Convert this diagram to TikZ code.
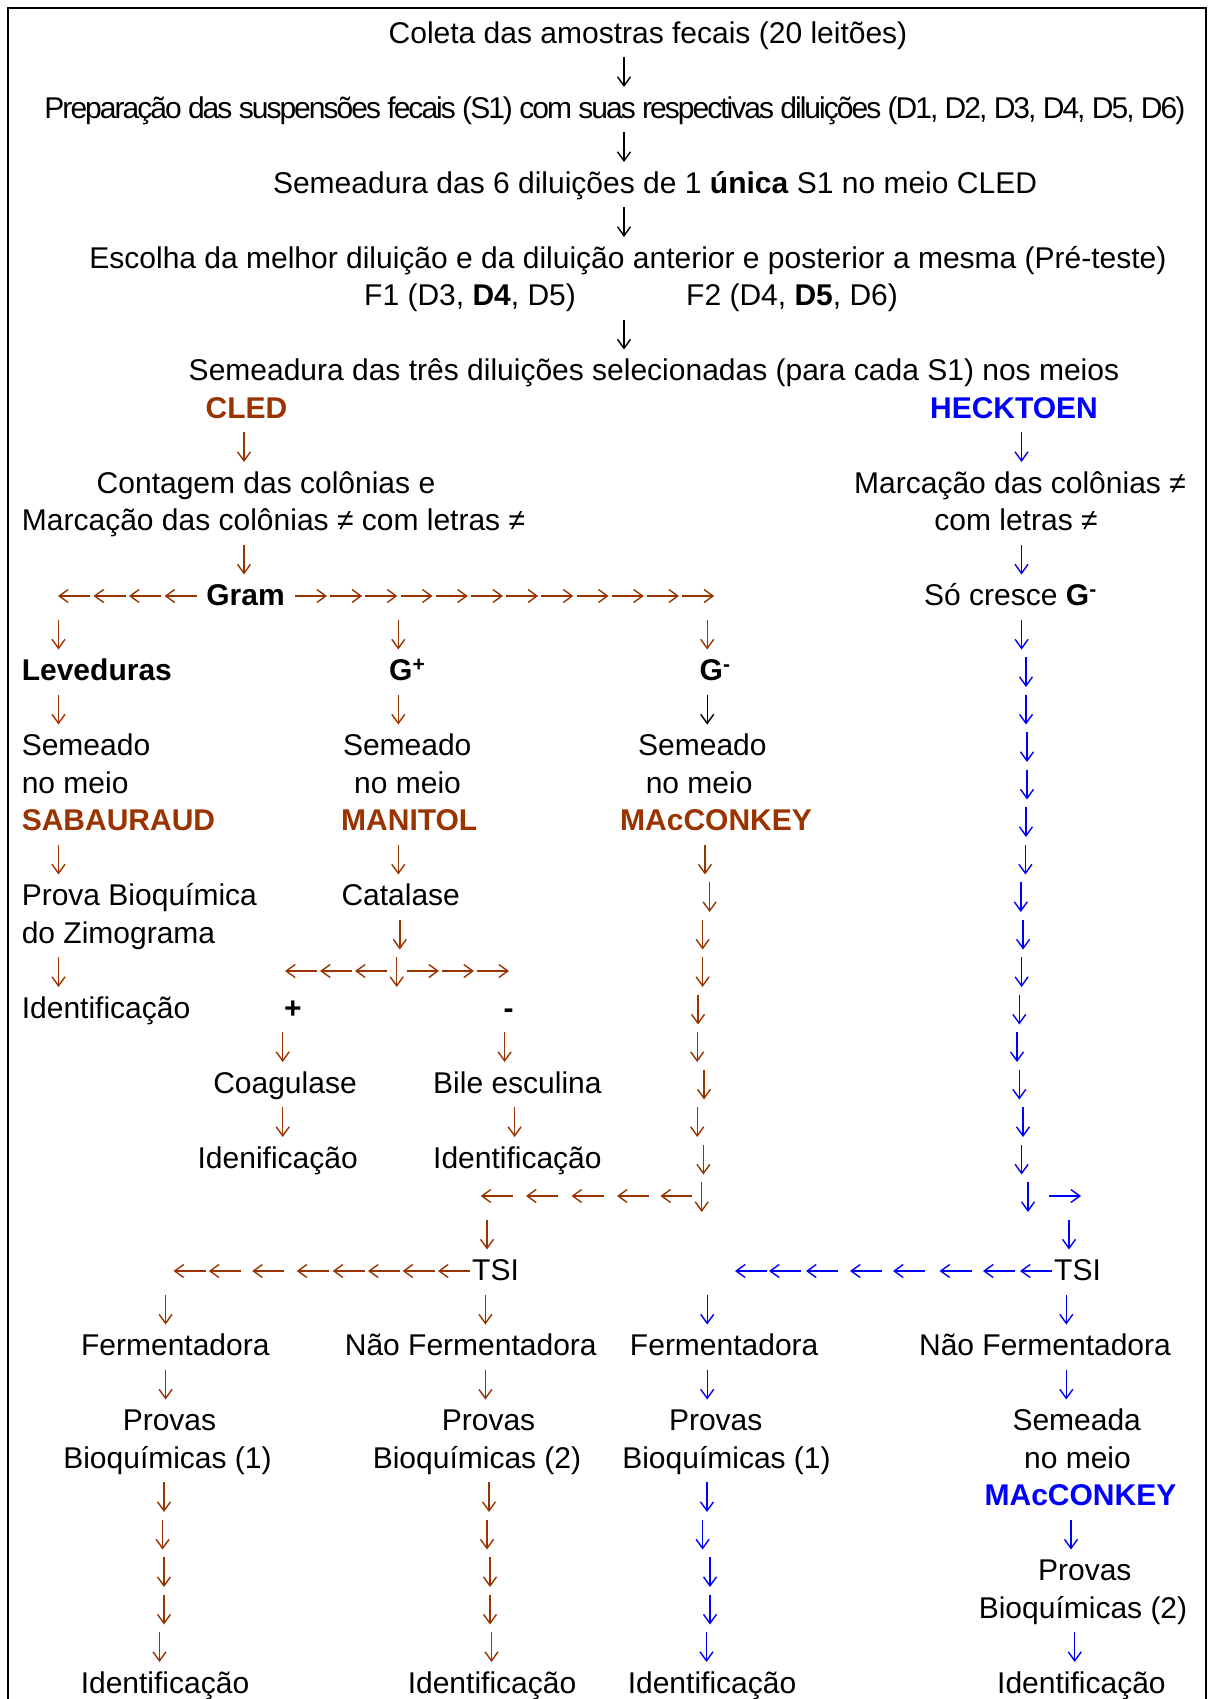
\documentclass[tikz,border=0pt]{standalone}
\usepackage{fontspec}
\setmainfont{Liberation Sans}
\usetikzlibrary{arrows.meta}
\definecolor{brn}{RGB}{153,51,0}
\definecolor{blu}{RGB}{0,0,255}

\begin{document}
\begin{tikzpicture}[
  x=1pt, y=-37.5pt,
  every node/.style = {inner sep=0pt, font=\fontsize{30}{37.5}\selectfont},
  txt/.style = {anchor=base, yshift=-10.75pt},
  txtl/.style = {anchor=base west, yshift=-10.75pt},
  head/.style = {line width=1.4pt, -{Straight Barb[length=9pt,width=13pt]}},
  dn/.pic = {\draw[head] (0,13pt) -- (0,-17pt);},
  lt/.pic = {\draw[head] (32pt,-1pt) -- (0,-1pt);},
  rt/.pic = {\draw[head] (0,-1pt) -- (32pt,-1pt);}
]
  \useasboundingbox (0,0.1333) rectangle (1208,45.44);
  \draw[line width=1.5pt] (8,45.44) |- (1206,0.3467) -- (1206,45.44);

  % preparation of the samples
  \node[txt] (coleta) at (648,1) {Coleta das amostras fecais (20 leitões)};
  \node[txt] (prep) at (615,3) {\addfontfeatures{LetterSpace=-6.6}Preparação das suspensões fecais (S1) com suas respectivas diluições (D1, D2, D3, D4, D5, D6)};
  \node[txt] (seme) at (655,5) {Semeadura das 6 diluições de 1 \textbf{única} S1 no meio CLED};
  \node[txt] (escolha) at (628,7) {Escolha da melhor diluição e da diluição anterior e posterior a mesma (Pré-teste)};
  \node[txtl] (f1) at (364,8) {F1 (D3, \textbf{D4}, D5)};
  \node[txtl] (f2) at (686,8) {F2 (D4, \textbf{D5}, D6)};
  \node[txt] (meios) at (654,10) {Semeadura das três diluições selecionadas (para cada S1) nos meios};
  \foreach \r in {2,4,6,9} \pic at (624,\r) {dn};

  % the two media
  \node[txt, text=brn] (cled) at (246.5,11) {\bfseries CLED};
  \node[txt, text=blu] (heck) at (1014,11) {\bfseries HECKTOEN};
  \node[txt] (cont) at (266,13) {Contagem das colônias e};
  \node[txt] (marc) at (273.5,14) {Marcação das colônias ≠ com letras ≠};
  \node[txt] (marcb) at (1020,13) {Marcação das colônias ≠};
  \node[txt] (letras) at (1016,14) {com letras ≠};
  \foreach \r in {12,15} \pic[brn] at (244,\r) {dn};

  % Gram
  \node[txt] (gram) at (245.5,16) {\bfseries Gram};
  \node[txtl] (socresce) at (924,16) {Só cresce \textbf{G\textsuperscript{-}}};
  \foreach \h in {58,93.5,129,164.5} \pic[brn] at (\h,16) {lt};
  \foreach \k in {0,...,11} \pic[brn] at (295+35.2*\k,16) {rt};
  \foreach \x in {58.5,398.3,707.2} \pic[brn] at (\x,17) {dn};
  \node[txtl] (lev) at (21.6,18) {\bfseries Leveduras};
  \node[txtl] (gpos) at (389,18) {\bfseries G\textsuperscript{+}};
  \node[txtl] (gneg) at (699.5,18) {\bfseries G\textsuperscript{-}};
  \foreach \x in {58.5,398.3} \pic[brn] at (\x,19) {dn};
  \pic at (707.2,19) {dn};

  % culture media
  \node[txtl] (sem1) at (21.6,20) {Semeado};
  \node[txtl] (sem2) at (342.8,20) {Semeado};
  \node[txtl] (sem3) at (638,20) {Semeado};
  \node[txtl] (nm1) at (21.6,21) {no meio};
  \node[txtl] (nm2) at (354,21) {no meio};
  \node[txtl] (nm3) at (645.6,21) {no meio};
  \node[txtl, text=brn] (sab) at (21.6,22) {\bfseries SABAURAUD};
  \node[txtl, text=brn] (man) at (341,22) {\bfseries MANITOL};
  \node[txtl, text=brn] (mac) at (620,22) {\bfseries MAcCONKEY};
  \foreach \x in {58.5,398.3} \pic[brn] at (\x,23) {dn};
  \foreach \r/\x in {23/705,24/709.6,25/702.6,26/702.6,27/698,28/697.2,29/704,30/697.2,31/703.4,32/701.7}
    \pic[brn] at (\x,\r) {dn};

  % yeasts and G+
  \node[txtl] (prova) at (21.6,24) {Prova Bioquímica};
  \node[txtl] (zimo) at (21.6,25) {do Zimograma};
  \node[txtl] (cat) at (341.3,24) {Catalase};
  \pic[brn] at (399.8,25) {dn};
  \foreach \x in {58.5,396.7} \pic[brn] at (\x,26) {dn};
  \foreach \h in {285,320,355} \pic[brn] at (\h,26) {lt};
  \foreach \t in {407,442,477} \pic[brn] at (\t,26) {rt};
  \node[txtl] (idlev) at (21.6,27) {Identificação};
  \node[txt] (pos) at (292.8,27) {\bfseries +};
  \node[txt] (neg) at (508.5,27) {\bfseries -};
  \foreach \x in {282.7,504.6} \pic[brn] at (\x,28) {dn};
  \node[txt] (coag) at (285,29) {Coagulase};
  \node[txt] (bile) at (517.4,29) {Bile esculina};
  \foreach \x in {282.7,514.6} \pic[brn] at (\x,30) {dn};
  \node[txt] (idcoag) at (277.7,31) {Idenificação};
  \node[txt] (idbile) at (517.4,31) {Identificação};

  % G- on CLED
  \foreach \h in {480.7,526,571.5,617,660.4} \pic[brn] at (\h,32) {lt};
  \pic[brn] at (487,33) {dn};
  \node[txtl] (tsia) at (472,34) {TSI};
  \foreach \h in {173.5,208.8,252.2,296.7,332.7,368,402.6,438} \pic[brn] at (\h,34) {lt};
  \foreach \r in {35,37} {
    \pic[brn] at (165.6,\r) {dn};
    \pic[brn] at (485.4,\r) {dn};
  }
  \node[txt] (ferma) at (175.3,36) {Fermentadora};
  \node[txt] (nferma) at (470.8,36) {Não Fermentadora};
  \node[txt] (prova1) at (169.5,38) {Provas};
  \node[txt] (prova2) at (488.5,38) {Provas};
  \node[txt] (bioq1) at (167.5,39) {Bioquímicas (1)};
  \node[txt] (bioq2) at (477,39) {Bioquímicas (2)};
  \foreach \r/\x in {40/164,41/162.6,42/164,43/164,44/159.5} \pic[brn] at (\x,\r) {dn};
  \foreach \r/\x in {40/489,41/487,42/490,43/490,44/491.5} \pic[brn] at (\x,\r) {dn};
  \node[txt] (id1) at (165,45) {Identificação};
  \node[txt] (id2) at (492,45) {Identificação};

  % HECKTOEN
  \foreach \r/\x in {12/1021.5,15/1021.5,17/1021.6,18/1026,19/1026,20/1027,21/1027,22/1026,23/1025.4,
      24/1020.8,25/1023.1,26/1021.6,27/1019.3,28/1017,29/1019.3,30/1023,31/1021.6,32/1028}
    \pic[blu] at (\x,\r) {dn};
  \pic[blu] at (1049,32) {rt};
  \pic[blu] at (1069,33) {dn};
  \node[txtl] (tsib) at (1054,34) {TSI};
  \foreach \h in {735,769,806,850,893,939.5,983,1020} \pic[blu] at (\h,34) {lt};
  \foreach \r in {35,37} {
    \pic[blu] at (707.2,\r) {dn};
    \pic[blu] at (1066.3,\r) {dn};
  }
  \node[txt] (fermb) at (724.2,36) {Fermentadora};
  \node[txt] (nfermb) at (1045,36) {Não Fermentadora};
  \node[txt] (prova3) at (715.7,38) {Provas};
  \node[txt] (bioq3) at (726.5,39) {Bioquímicas (1)};
  \node[txt] (semb) at (1076.7,38) {Semeada};
  \node[txt] (nmb) at (1077.5,39) {no meio};
  \node[txt, text=blu] (macb) at (1080.5,40) {\bfseries MAcCONKEY};
  \node[txt] (prova4) at (1084.8,42) {Provas};
  \node[txt] (bioq4) at (1083,43) {Bioquímicas (2)};
  \foreach \r/\x in {40/707,41/702.6,42/710,43/710,44/706.5} \pic[blu] at (\x,\r) {dn};
  \foreach \r/\x in {41/1071,44/1074.7} \pic[blu] at (\x,\r) {dn};
  \node[txt] (id3) at (712,45) {Identificação};
  \node[txt] (id4) at (1081.4,45) {Identificação};
\end{tikzpicture}
\end{document}
